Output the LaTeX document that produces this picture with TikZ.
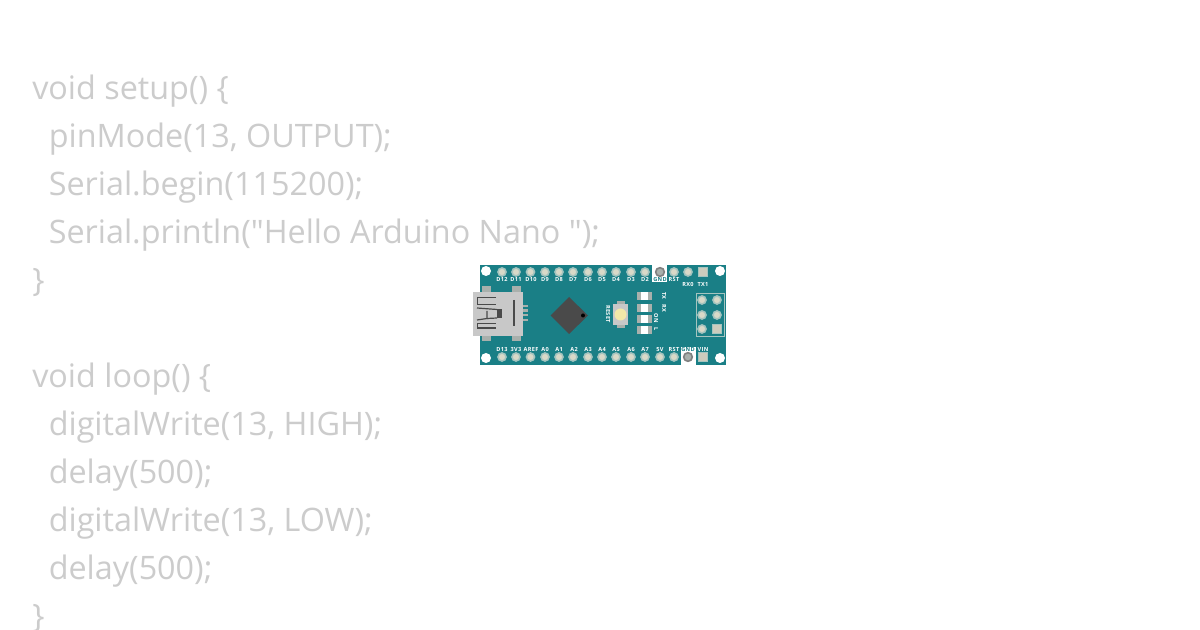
\documentclass[tikz,border=0pt]{standalone}
\usepackage{fontspec}
\newfontfamily\codefont{Open Sans}
\newfontfamily\labfont{Open Sans}[LetterSpace=6]
\usetikzlibrary{calc}
\definecolor{boardcol}{HTML}{1A7F86}
\definecolor{codecol}{HTML}{CCCCCC}
\definecolor{usbcol}{HTML}{C8C8C8}
\definecolor{usbtab}{HTML}{A9B0AC}
\definecolor{chipcol}{HTML}{4A4A4A}
\definecolor{pinring}{HTML}{A5C4BF}
\definecolor{pincore}{HTML}{D9D9C8}
\definecolor{capcol}{HTML}{F2E9A8}
\tikzset{
  code/.style={anchor=base west,inner sep=0pt,text=codecol,font=\codefont\fontsize{24.25pt}{24.25pt}\selectfont},
  pinlab/.style={inner sep=0pt,text height=3pt,text depth=0pt,text=white,font=\labfont\bfseries\fontsize{4.2pt}{4.2pt}\selectfont},
  pinhole/.style={circle,fill=pincore,draw=pinring,line width=1.2pt,minimum size=6pt,inner sep=0pt},
  pinground/.style={circle,fill=usbtab,draw=gray,line width=1.2pt,minimum size=6.5pt,inner sep=0pt},
  pinsquare/.style={rectangle,fill=pincore!85!gray,draw=pinring,line width=1.2pt,minimum size=6.5pt,inner sep=0pt},
  ledbody/.style={rectangle,fill=usbtab,minimum width=11pt,minimum height=6pt,inner sep=0pt},
  ledcore/.style={rectangle,fill=white,minimum width=5.5pt,minimum height=6pt,inner sep=0pt}
}
\begin{document}
\begin{tikzpicture}[x=0.75pt,y=-0.75pt]
\useasboundingbox (0,0) rectangle (1200,630);
\fill[white] (0,0) rectangle (1200,630);
% code
\node[code] (l1) at (32,100) {void setup() \{};
\node[code] (l2) at (48.5,148) {pinMode(13, OUTPUT);};
\node[code] (l3) at (48.5,196) {Serial.begin(115200);};
\node[code] (l4) at (48.5,244) {Serial.println("Hello Arduino Nano ");};
\node[code] (l5) at (32,292) {\}};
\node[code] (l6) at (32,388) {void loop() \{};
\node[code] (l7) at (48.5,436) {digitalWrite(13, HIGH);};
\node[code] (l8) at (48.5,484) {delay(500);};
\node[code] (l9) at (48.5,532) {digitalWrite(13, LOW);};
\node[code] (l10) at (48.5,580) {delay(500);};
\node[code] (l11) at (32,628) {\}};
% board
\fill[boardcol] (480,265) rectangle (726,365);
\fill[white] (652,265) rectangle (667,282);
\fill[white] (681,347) rectangle (696,365);
\foreach \hx/\hy in {486/271,720/271,486/358,720/358}
  \fill[white] (\hx,\hy) circle (5);
% pins
\foreach \px in {502,516,530.5,545,559,573,588,602,616,631,645,674,688}
  \node[pinhole] at (\px,272) {};
\node[pinground] (tgnd) at (660,272) {};
\node[pinsquare] (tsq) at (703,272) {};
\foreach \px in {502,516,530.5,545,559,573,588,602,616,631,645,660,674}
  \node[pinhole] at (\px,357) {};
\node[pinground] (bgnd) at (688,357) {};
\node[pinsquare] (bsq) at (703,357) {};
\foreach \px/\lab in {502/D12,516/D11,531/D10,545/D9,559/D8,573/D7,588/D6,602/D5,616/D4,631/D3,645/D2,674/RST}
  \node[pinlab] at (\px,280) {\lab};
\node[pinlab,text=boardcol] (gt) at (660,280) {GND};
\node[pinlab] (rx) at (688,285) {RX0};
\node[pinlab] (tx) at (703,285) {TX1};
\foreach \px/\lab in {502/D13,516/3V3,531/AREF,545/A0,559/A1,574/A2,588/A3,602/A4,616/A5,631/A6,645/A7,660/5V,674/RST,703/VIN}
  \node[pinlab] at (\px,350) {\lab};
\node[pinlab,text=boardcol] (gb) at (688,350) {GND};
% usb
\fill[usbtab] (482,286) rectangle (491,292);
\fill[usbtab] (512,286) rectangle (521,292);
\fill[usbtab] (482,336) rectangle (491,341);
\fill[usbtab] (512,336) rectangle (521,341);
\foreach \uy in {306,310.5,315,320}
  \fill[usbtab] (523,\uy-1.2) rectangle (528,\uy+1.2);
\fill[usbcol] (473,292) rectangle (523,336);
\draw[chipcol,line width=0.9pt] (496,297.5) -- (477.5,297.5) -- (477.5,304.5) -- (496,304.5);
\draw[chipcol,line width=0.9pt] (496,323.5) -- (477.5,323.5) -- (477.5,328) -- (496,328);
\draw[chipcol,line width=0.9pt] (477,308) -- (497,309.5);
\draw[chipcol,line width=0.9pt] (477,320) -- (487,318.5) -- (487,311) ;
\draw[chipcol,line width=0.9pt] (487,318.5) -- (497,318);
\fill[chipcol] (497,309) rectangle (502,318);
\draw[chipcol,line width=1.1pt] (514,300) -- (514,326);
% chip
\fill[chipcol] (569,297) -- (588,315.5) -- (569,334) -- (550.5,315.5) -- cycle;
\fill[black] (583,315.5) circle (2);
% reset
\fill[usbtab] (617,301) rectangle (625,328);
\fill[usbcol] (613,304) rectangle (628,325);
\fill[capcol] (620.5,314.5) circle (6);
\node[pinlab,rotate=-90] (rst) at (608,314) {RESET};
% leds
\foreach \ly in {296.5,308,319,330} {
  \node[ledbody] at (644.5,\ly) {};
  \node[ledcore] at (644.5,\ly) {};
}
\node[pinlab,rotate=-90] (ttx) at (664,296) {TX};
\node[pinlab,rotate=-90] (trx) at (664,308) {RX};
\node[pinlab,rotate=-90] (ton) at (656,318) {ON};
\node[pinlab,rotate=-90] (tl) at (656,329) {L};
% header
\draw[pinring,line width=0.6pt] (696,293) rectangle (724,336);
\foreach \hx/\hy in {702/300,717/300,702/315,717/315,702/329}
  \node[pinhole] at (\hx,\hy) {};
\node[pinsquare] (hsq) at (717,329) {};
\end{tikzpicture}
\end{document}
